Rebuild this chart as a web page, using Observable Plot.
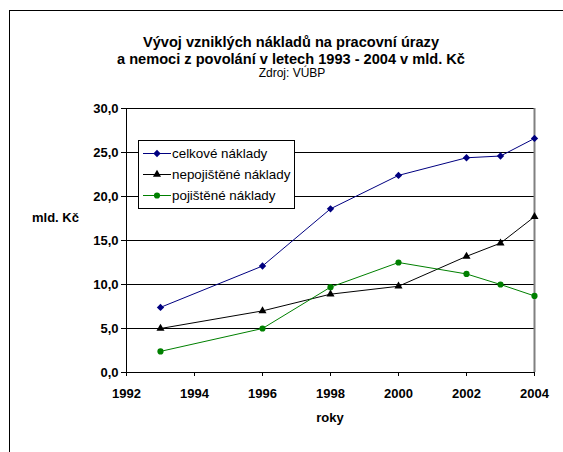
<!DOCTYPE html>
<html>
<head>
<meta charset="utf-8">
<script src="https://cdn.jsdelivr.net/npm/d3@7"></script>
<script src="https://cdn.jsdelivr.net/npm/@observablehq/plot@0.6"></script>
<style>
  html, body { margin: 0; padding: 0; background: #fff; }
  #wrap { position: relative; width: 563px; height: 452px; overflow: hidden; font-family: "Liberation Sans", Arial, sans-serif; color: #000; }
  #frame { position: absolute; left: 9px; top: 10px; width: 600px; height: 500px; border: 1px solid #000; box-sizing: border-box; }
  #chart { position: absolute; left: 0; top: 0; }
  .title { position: absolute; left: 0; width: 582px; text-align: center; font-weight: bold; font-size: 14.6px; line-height: 16px; }
  .sub { position: absolute; left: 0; width: 584px; text-align: center; font-size: 12px; line-height: 12px; }
  .ylab { position: absolute; left: 32px; top: 210px; font-size: 13px; font-weight: bold; line-height: 15px; }
  .xlab { position: absolute; left: 280px; width: 100px; top: 410px; text-align: center; font-size: 13px; font-weight: bold; line-height: 15px; }
  #legend { position: absolute; left: 138px; top: 140px; width: 157px; border: 1px solid #000; background: #fff; box-sizing: border-box; padding: 2px 0; }
  .row { height: 21px; display: flex; align-items: center; font-size: 13.4px; white-space: nowrap; }
  .row svg { margin-left: 4px; margin-right: 1px; flex: none; }
</style>
</head>
<body>
<div id="wrap">
  <div id="frame"></div>
  <div id="chart"></div>
  <div class="title" style="top:34px">Vývoj vzniklých nákladů na pracovní úrazy</div>
  <div class="title" style="top:51px">a nemoci z povolání v letech 1993 - 2004 v mld. Kč</div>
  <div class="sub" style="top:67px">Zdroj: VÚBP</div>
  <div class="ylab">mld. Kč</div>
  <div class="xlab">roky</div>
  <div id="legend"></div>
</div>
<script>
// ---- data ----
const years = [1993, 1996, 1998, 2000, 2002, 2003, 2004];
const celkove = [7.4, 12.1, 18.6, 22.4, 24.4, 24.6, 26.6];
const nepojistene = [5.0, 7.0, 8.9, 9.8, 13.2, 14.7, 17.7];
const pojistene = [2.4, 5.0, 9.7, 12.5, 11.2, 10.0, 8.7];
const seriesNames = ["celkové náklady", "nepojištěné náklady", "pojištěné náklady"];
const xTicks = [1992, 1994, 1996, 1998, 2000, 2002, 2004];
const yTicks = [0, 5, 10, 15, 20, 25, 30];

// ---- styles ----
const colors = ["#000080", "#000000", "#008000"];
const symbols = ["diamond2", "triangle", "circle"];
const radii = [3.3, 3.0, 3.1];
const d3Symbols = [d3.symbolDiamond2, d3.symbolTriangle, d3.symbolCircle];

const seriesValues = [celkove, nepojistene, pojistene];
const data = seriesValues.map((vals, i) => years.map((yr, j) => ({year: yr, value: vals[j], series: seriesNames[i]})));

const marks = [
  Plot.ruleY(yTicks.slice(1), {stroke: "#000", strokeWidth: 1}),
  Plot.ruleX([2004], {y1: 0, y2: 30, stroke: "#808080", strokeWidth: 2}),
  Plot.ruleX([1992], {y1: 0, y2: 30, stroke: "#000", strokeWidth: 1}),
  Plot.ruleY([0], {stroke: "#000", strokeWidth: 1}),
  Plot.axisY({ticks: yTicks, tickSize: 5, tickPadding: 3, tickFormat: d => d.toFixed(1).replace(".", ","), fontSize: 13, fontWeight: "bold", label: null, stroke: "#000"}),
  Plot.axisX({ticks: xTicks, tickSize: 4, tickPadding: 12, tickFormat: d => String(d), fontSize: 13, fontWeight: "bold", label: null, stroke: "#000"})
];
data.forEach((d, i) => {
  marks.push(Plot.line(d, {x: "year", y: "value", stroke: colors[i], strokeWidth: 1}));
});
data.forEach((d, i) => {
  marks.push(Plot.dot(d, {x: "year", y: "value", symbol: () => symbols[i], fill: colors[i], stroke: "none", r: radii[i]}));
});

const chart = Plot.plot({
  width: 563,
  height: 452,
  marginLeft: 126,
  marginRight: 29,
  marginTop: 108,
  marginBottom: 80,
  style: {background: "transparent", fontFamily: "'Liberation Sans', Arial, sans-serif", color: "#000"},
  x: {domain: [1992, 2004], label: null},
  y: {domain: [0, 30], label: null},
  symbol: {domain: symbols, range: symbols},
  marks
});
document.getElementById("chart").appendChild(chart);

// ---- legend ----
const legend = document.getElementById("legend");
seriesNames.forEach((name, i) => {
  const row = document.createElement("div");
  row.className = "row";
  const size = Math.PI * radii[i] * radii[i];
  const path = d3.symbol(d3Symbols[i], size)();
  row.innerHTML = `<svg width="28" height="21"><line x1="0" x2="28" y1="10.5" y2="10.5" stroke="${colors[i]}" stroke-width="1"/><path transform="translate(14,10.5)" d="${path}" fill="${colors[i]}"/></svg><span>${name}</span>`;
  legend.appendChild(row);
});
</script>
</body>
</html>
